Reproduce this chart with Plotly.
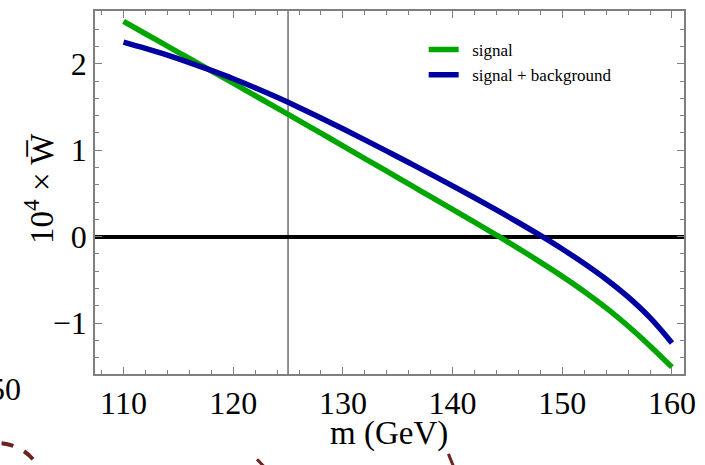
import plotly.graph_objects as go

# Mass grid (GeV)
mass = [110, 112, 114, 116, 118, 120, 122, 124, 126, 128, 130, 132, 134,
        136, 138, 140, 142, 144, 146, 148, 150, 152, 154, 156, 158, 160]

# 10^4 x W-bar, signal only
w_signal = [2.49, 2.347, 2.204, 2.061, 1.918, 1.775, 1.631, 1.487, 1.342,
            1.196, 1.05, 0.903, 0.756, 0.609, 0.462, 0.315, 0.168, 0.018,
            -0.136, -0.295, -0.46, -0.635, -0.825, -1.035, -1.265, -1.51]

# 10^4 x W-bar, signal + background
w_signal_bg = [2.25, 2.177, 2.099, 2.013, 1.922, 1.826, 1.722, 1.611, 1.494,
               1.372, 1.247, 1.119, 0.989, 0.857, 0.723, 0.587, 0.449, 0.308,
               0.163, 0.013, -0.144, -0.311, -0.493, -0.698, -0.938, -1.23]

higgs_mass = 125
x_ticks = [110, 120, 130, 140, 150, 160]
y_ticks = [-1, 0, 1, 2]

SERIF = "Liberation Serif, Times New Roman, serif"
FRAME = "#7f7f7f"
PAD = "\u00a0\u00a0"

fig = go.Figure()
fig.add_trace(go.Scatter(x=mass, y=w_signal, mode="lines", name=PAD + "signal",
                         line=dict(color="#00a600", width=5.5,
                                   shape="spline", smoothing=1.0)))
fig.add_trace(go.Scatter(x=mass, y=w_signal_bg, mode="lines",
                         name=PAD + "signal + background",
                         line=dict(color="#0000a0", width=5.5,
                                   shape="spline", smoothing=1.0)))

# reference mass marker
fig.add_shape(type="line", x0=higgs_mass, x1=higgs_mass, y0=0, y1=1,
              xref="x", yref="paper", line=dict(color="#6e6e6e", width=1.5),
              layer="below")

axis_common = dict(
    showline=True, mirror="ticks", linecolor=FRAME, linewidth=1.5,
    ticks="inside", ticklen=7, tickwidth=1.2, tickcolor=FRAME,
    showgrid=False, tickfont=dict(family=SERIF, size=32, color="black"),
)

fig.update_xaxes(range=[107.4, 161.1], tickvals=x_ticks,
                 minor=dict(dtick=2, ticks="inside", ticklen=4,
                            tickcolor=FRAME, tickwidth=1.2),
                 zeroline=False, **axis_common)
fig.update_yaxes(range=[-1.59, 2.61], tickvals=y_ticks,
                 minor=dict(dtick=0.2, ticks="inside", ticklen=4,
                            tickcolor=FRAME, tickwidth=1.2),
                 zeroline=True, zerolinecolor="black", zerolinewidth=4,
                 **axis_common)

annotations = [
    dict(text="m (GeV)", x=0.499, y=-0.165, xref="paper", yref="paper",
         xanchor="center", yanchor="middle", showarrow=False,
         font=dict(family=SERIF, size=33, color="black")),
    dict(text="10<sup>4</sup> × W\u0305", x=-0.095, y=0.51, xref="paper",
         yref="paper", xanchor="center", yanchor="middle", showarrow=False,
         textangle=-90, font=dict(family=SERIF, size=33, color="black")),
    # edge of the neighbouring panel's tick label
    dict(text="150", x=-0.123, y=-0.04, xref="paper", yref="paper",
         xanchor="right", yanchor="middle", showarrow=False,
         font=dict(family=SERIF, size=32, color="black")),
]

fig.update_layout(
    width=705, height=465,
    margin=dict(l=95, r=13, t=9, b=91),
    paper_bgcolor="white", plot_bgcolor="white",
    annotations=annotations,
    legend=dict(x=0.558, y=0.942, xanchor="left", yanchor="top",
                bgcolor="rgba(0,0,0,0)", borderwidth=0,
                font=dict(family=SERIF, size=17, color="black"),
                tracegroupgap=0, itemwidth=30),
    showlegend=True,
)

# fragments of the neighbouring panel's dashed curve along the lower edge
fig.add_shape(type="circle", xref="paper", yref="paper",
              x0=-0.245, x1=-0.088, y0=-0.43, y1=-0.19,
              line=dict(color="#6b2222", width=4, dash="dash"))
fig.add_shape(type="line", xref="paper", yref="paper",
              x0=0.275, y0=-0.235, x1=0.29, y1=-0.26,
              line=dict(color="#6b2222", width=3))
fig.add_shape(type="line", xref="paper", yref="paper",
              x0=0.6, y0=-0.22, x1=0.61, y1=-0.26,
              line=dict(color="#6b2222", width=3))

fig.write_html("out.html")
